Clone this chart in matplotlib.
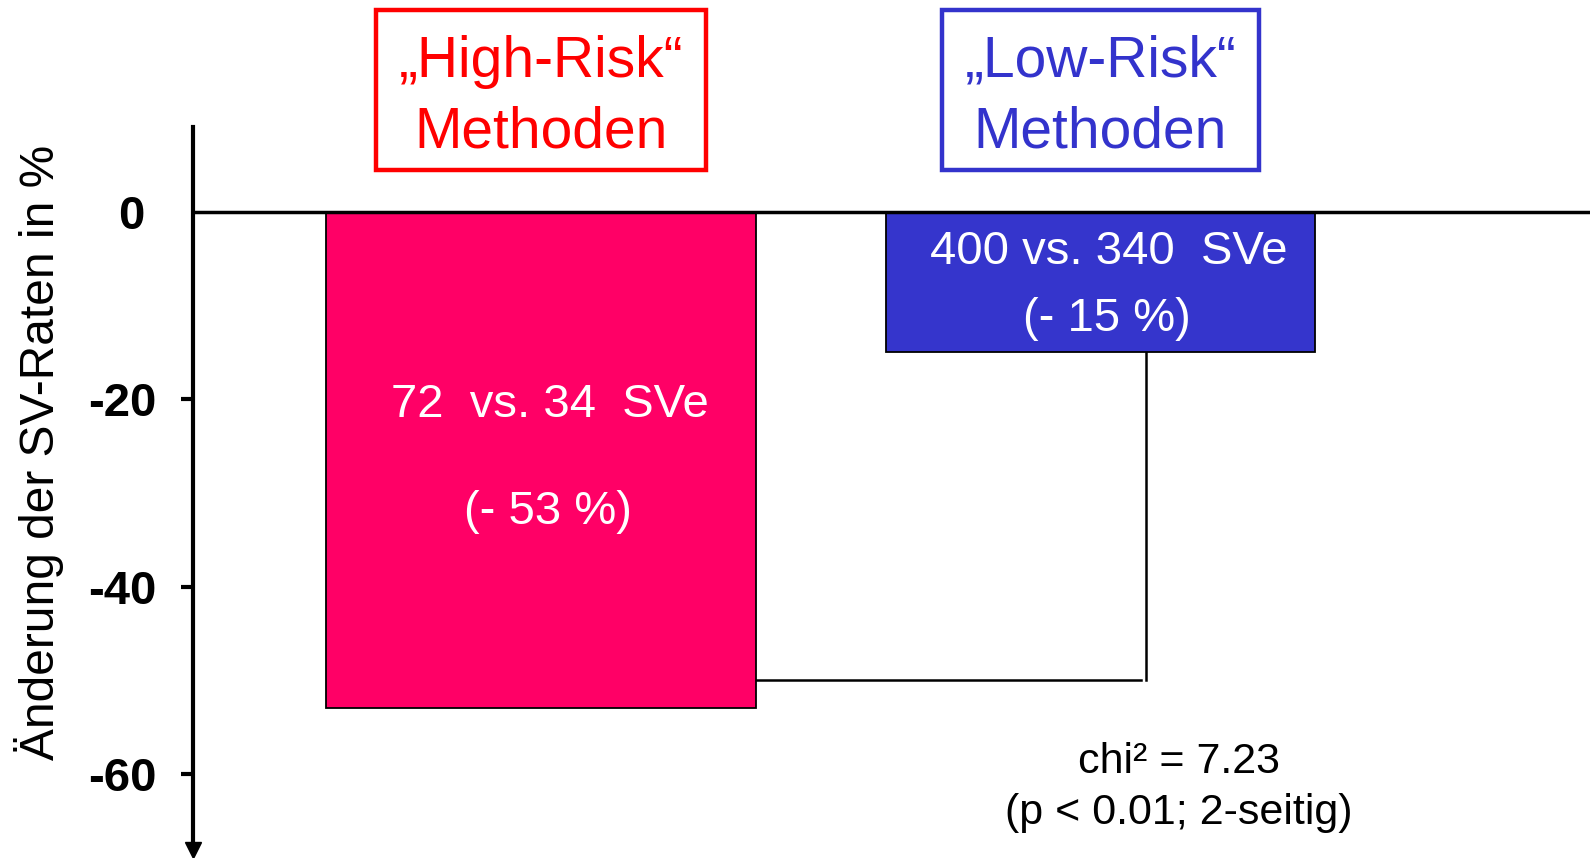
import matplotlib
matplotlib.use("Agg")
import matplotlib.pyplot as plt
from matplotlib.patches import Rectangle
from matplotlib.transforms import blended_transform_factory, ScaledTranslation

plt.rcParams["font.family"] = ["Liberation Sans", "DejaVu Sans"]

# Data: event counts before vs. after, per method group
groups = ["„High-Risk“\nMethoden", "„Low-Risk“\nMethoden"]
events_before = [72, 400]
events_after = [34, 340]
change_pct = [round((a - b) / b * 100) for b, a in zip(events_before, events_after)]  # -53, -15
chi2_value = 7.23
p_text = "(p < 0.01; 2-seitig)"
bracket_level = -50
yticks = [0, -20, -40, -60]

bar_colors = ["#FF0066", "#3535CC"]
head_colors = ["#FF0000", "#3333CC"]

fig = plt.figure(figsize=(15.9, 8.58), dpi=100)
ax = fig.add_axes([193 / 1590, 8 / 858, 1 - 193 / 1590, (850 - 127) / 858])

x = [0, 1]
width = 0.767
ax.bar(x, change_pct, width=width, color=bar_colors, edgecolor="black",
       linewidth=1.3, zorder=2)
ax.axhline(0, color="black", linewidth=2.5, zorder=3)

ax.set_xlim(-0.622, 1.875)
ax.set_ylim(-68.13, 9.08)

# Axis styling
for side in ("top", "right", "bottom"):
    ax.spines[side].set_visible(False)
ax.spines["left"].set_linewidth(3)
ax.set_xticks([])
ax.set_yticks(yticks)
ax.set_yticklabels([str(t) for t in yticks], fontsize=34, fontweight="bold")
ax.tick_params(axis="y", length=9, width=3, pad=17)
zero_tick = ax.yaxis.get_major_ticks()[0]
zero_tick.tick1line.set_visible(False)
zero_tick.label1.set_transform(zero_tick.label1.get_transform()
                               + ScaledTranslation(-12 / 100, 0, fig.dpi_scale_trans))
ax.plot([0], [0], marker="v", color="black", markersize=11,
        transform=ax.transAxes, clip_on=False)

fig.text(39 / 1590, 1 - 452 / 858, "Änderung der SV-Raten in %", rotation=90,
         ha="center", va="center", fontsize=34.5)

# Labels inside the bars
label_pos = [(-21.9, -33.3), (-5.6, -12.7)]
for xi, b, a, pct, (y1, y2) in zip(x, events_before, events_after, change_pct, label_pos):
    ax.text(xi + 0.015, y1, f"{b}  vs. {a}  SVe" if b < 100 else f"{b} vs. {a}  SVe",
            ha="center", va="baseline", color="white", fontsize=34, zorder=4)
    ax.text(xi + 0.012, y2, f"(- {abs(pct)} %)", ha="center", va="baseline",
            color="white", fontsize=34, zorder=4)

# Significance bracket between the groups
ax.plot([width / 2, 1.072], [bracket_level, bracket_level], color="black",
        linewidth=1.8, zorder=1)
ax.plot([1.081, 1.081], [change_pct[1], bracket_level], color="black",
        linewidth=1.8, zorder=1)
ax.text(1.14, -59.9, f"chi² = {chi2_value}", ha="center", va="baseline", fontsize=31)
ax.text(1.14, -65.4, p_text, ha="center", va="baseline", fontsize=31)

# Group headers in framed boxes above the bars
trans = blended_transform_factory(ax.transData, fig.transFigure)
box_w = [0.590, 0.5675]
for xi, name, col, bw in zip(x, groups, head_colors, box_w):
    ax.add_patch(Rectangle((xi - bw / 2, 1 - 170 / 858), bw, 160 / 858,
                           transform=trans, fill=False, edgecolor=col,
                           linewidth=3.2, clip_on=False))
    line1, line2 = name.split("\n")
    ax.text(xi, 1 - 77 / 858, line1, transform=trans, ha="center",
            va="baseline", color=col, fontsize=41)
    ax.text(xi, 1 - 147 / 858, line2, transform=trans, ha="center",
            va="baseline", color=col, fontsize=41)

fig.savefig("out.png", dpi=100)
